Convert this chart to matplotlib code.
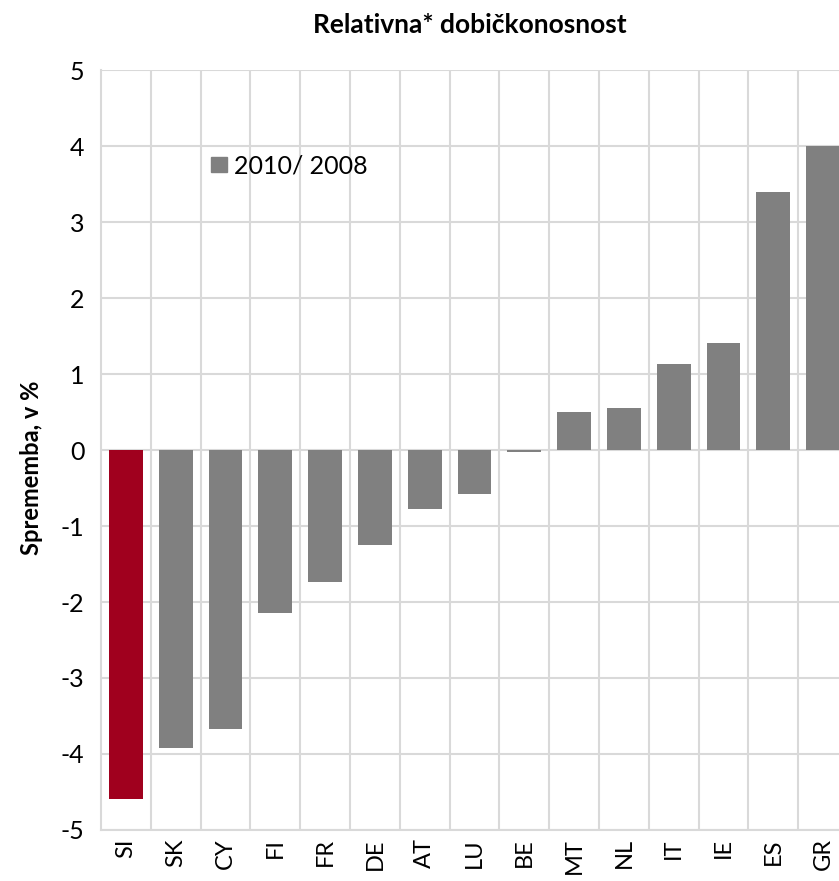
import matplotlib.pyplot as plt
import matplotlib.patches as mpatches
import numpy as np

plt.rcParams['font.family'] = ['Lato', 'DejaVu Sans']
plt.rcParams['axes.unicode_minus'] = False

countries = ["SI", "SK", "CY", "FI", "FR", "DE", "AT", "LU", "BE", "MT", "NL", "IT", "IE", "ES", "GR"]
change = [-4.59, -3.92, -3.67, -2.14, -1.74, -1.25, -0.78, -0.58, -0.03, 0.50, 0.55, 1.13, 1.41, 3.39, 4.00]
series_label = "2010/ 2008"
highlight = "SI"

grey = "#808080"
red = "#a0001e"
grid_col = "#d9d9d9"

fig = plt.figure(figsize=(8.39, 8.81), dpi=100)
ax = fig.add_axes([0.1204, 0.0579, 0.8903, 0.8626])

x = np.arange(len(countries))
colors = [red if c == highlight else grey for c in countries]
ax.bar(x, change, width=0.68, color=colors, zorder=3)

ax.set_xlim(-0.5, len(countries) - 0.5)
ax.set_ylim(-5, 5)
ax.set_yticks(range(-5, 6))
ax.set_xticks(x)
ax.set_xticklabels(countries, rotation=90, fontsize=17)
ax.set_xticks(x[:-1] + 0.5, minor=True)
ax.tick_params(axis='y', labelsize=18, length=0, pad=12)
ax.tick_params(axis='x', which='both', length=0, pad=6)

ax.grid(True, axis='y', color=grid_col, lw=1.5, zorder=0)
ax.grid(True, axis='x', which='minor', color=grid_col, lw=1.5, zorder=0)
ax.grid(False, axis='x', which='major')
for s in ['top', 'right']:
    ax.spines[s].set_visible(False)
for s in ['left', 'bottom']:
    ax.spines[s].set_color(grid_col)
    ax.spines[s].set_linewidth(1.5)

ax.set_ylabel("Sprememba, v %", fontsize=17, fontweight='bold')
ax.yaxis.set_label_coords(-0.078, 0.477)
fig.text(0.56, 0.972, "Relativna* dobičkonosnost", ha='center', va='center',
         fontsize=19, fontweight='bold')

# white box behind the legend, hides the grid
ax.add_patch(mpatches.Rectangle((0.075, 0.836), 0.355, 0.076, transform=ax.transAxes,
                                facecolor='white', edgecolor='none', zorder=1))
handle = mpatches.Patch(color=grey, label=series_label)
ax.legend(handles=[handle], loc='center', bbox_to_anchor=(0.252, 0.874), frameon=False,
          fontsize=18, handlelength=0.65, handleheight=0.6, handletextpad=0.3)

fig.savefig("out.png", dpi=100)
